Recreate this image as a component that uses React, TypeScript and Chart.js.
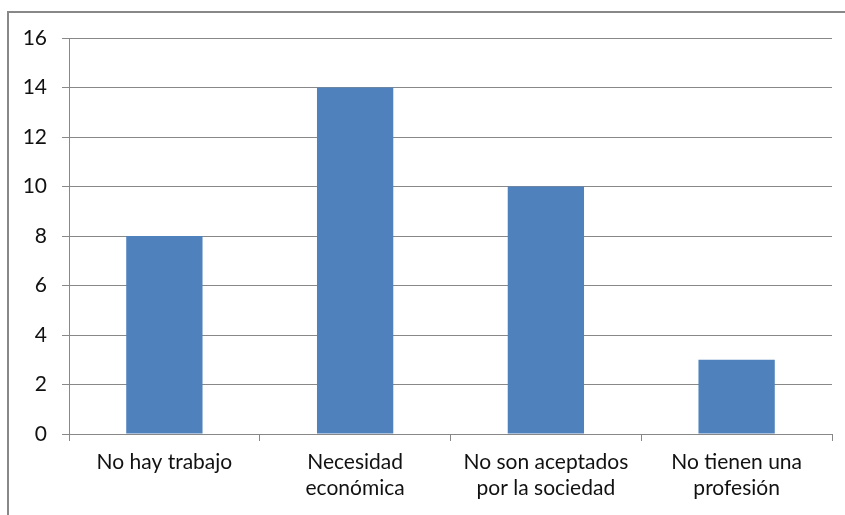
import React, { useEffect, useRef } from "react";
import { Chart, registerables } from "chart.js";

Chart.register(...registerables);

const categories: string[][] = [
  ["No hay trabajo"],
  ["Necesidad", "económica"],
  ["No son aceptados", "por la sociedad"],
  ["No tienen una", "profesión"],
];
const values: number[] = [8, 14, 10, 3];
const yMin = 0;
const yMax = 16;
const yStep = 2;

const GRID = "#888888";
const BAR = "#4F81BD";
const FONT = "Lato, 'Open Sans', sans-serif";

const borderPlugin = {
  id: "frameBorder",
  beforeDraw(chart: any) {
    const ctx = chart.ctx;
    ctx.save();
    ctx.fillStyle = "#ffffff";
    ctx.fillRect(0, 0, chart.width, chart.height);
    ctx.fillStyle = GRID;
    ctx.fillRect(7, 11, 2, chart.height - 11);
    ctx.fillRect(7, 11, chart.width - 7, 2);
    ctx.restore();
  },
};

export default function App() {
  const ref = useRef<HTMLCanvasElement | null>(null);
  useEffect(() => {
    document.body.style.margin = "0";
    const canvas = ref.current;
    if (!canvas) return;
    const chart = new Chart(canvas, {
      type: "bar",
      data: {
        labels: categories,
        datasets: [
          {
            data: values,
            backgroundColor: BAR,
            borderWidth: 0,
            barPercentage: 0.4,
            categoryPercentage: 1,
          },
        ],
      },
      options: {
        responsive: false,
        animation: false,
        devicePixelRatio: 1,
        layout: { padding: { left: 8, top: 38, right: 13, bottom: 0 } },
        plugins: {
          legend: { display: false },
          tooltip: { enabled: false },
        },
        scales: {
          x: {
            afterFit: (s: any) => {
              s.height = 81;
            },
            grid: {
              display: true,
              drawOnChartArea: false,
              drawTicks: true,
              tickLength: 7,
              color: GRID,
            },
            border: { display: true, color: GRID },
            ticks: {
              color: "#111111",
              padding: 9,
              maxRotation: 0,
              autoSkip: false,
              font: { family: FONT, size: 21, lineHeight: 1.2 },
            },
          },
          y: {
            min: yMin,
            max: yMax,
            afterFit: (s: any) => {
              s.width = 61;
            },
            grid: {
              color: GRID,
              tickLength: 7,
              drawTicks: true,
            },
            border: { display: true, color: GRID },
            ticks: {
              stepSize: yStep,
              color: "#111111",
              padding: 15,
              font: { family: FONT, size: 21 },
            },
          },
        },
      },
      plugins: [borderPlugin],
    });
    return () => chart.destroy();
  }, []);
  return (
    <div style={{ position: "absolute", left: 0, top: 0, width: 845, height: 515 }}>
      <canvas ref={ref} width={845} height={515} style={{ display: "block" }} />
    </div>
  );
}
